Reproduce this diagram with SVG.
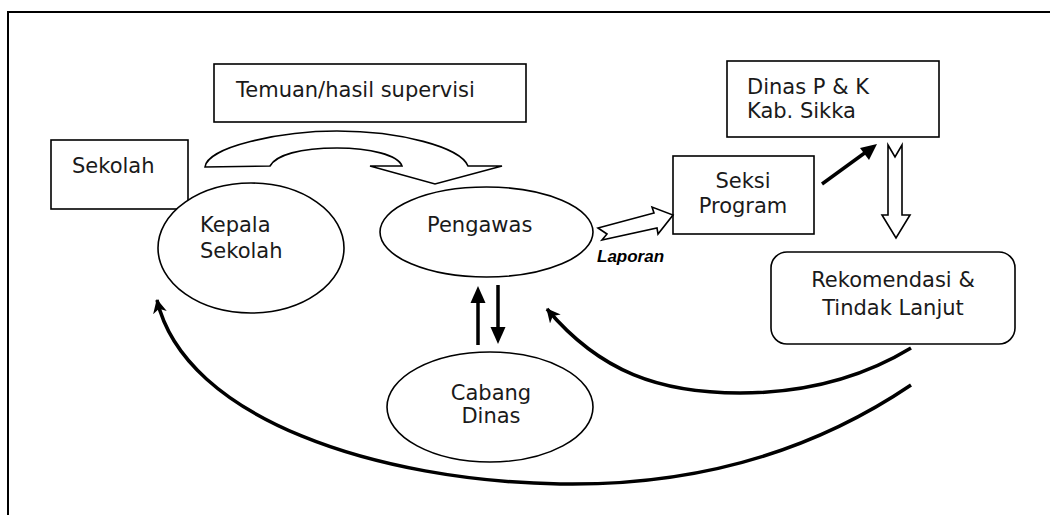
<svg xmlns="http://www.w3.org/2000/svg" width="1050" height="515" viewBox="0 0 1050 515">
<style>
.box{fill:#fff;stroke:#000;stroke-width:1.6}
.t{font-family:"DejaVu Sans",Verdana,sans-serif;font-size:21px;fill:#1a1a1a}
.c{text-anchor:middle}
.hollow{fill:#fff;stroke:#000;stroke-width:1.6;stroke-linejoin:miter}
.curve{fill:none;stroke:#000;stroke-width:3.5}
.thick{fill:none;stroke:#000;stroke-width:3.5}
</style>
<defs>
<marker id="stealth" markerWidth="16" markerHeight="14" refX="13" refY="7" orient="auto" markerUnits="userSpaceOnUse" viewBox="0 0 16 14">
<path d="M0,0 L14,7 L0,14 L4,7 Z" fill="#000"/>
</marker>
</defs>
<rect width="1050" height="515" fill="#fff"/>
<g id="frame">
<path d="M1050,12 L8,12 L8,515" fill="none" stroke="#000" stroke-width="2"/>
</g>
<g id="temuan">
<rect class="box" x="214" y="64" width="312" height="58"/>
<text class="t" x="236" y="97">Temuan/hasil supervisi</text>
</g>
<g id="sekolah">
<rect class="box" x="51" y="140" width="137" height="69"/>
<text class="t" x="72" y="173">Sekolah</text>
</g>
<g id="kepala-sekolah">
<ellipse class="box" cx="251" cy="248" rx="93" ry="65"/>
<text class="t" x="200" y="232">Kepala</text>
<text class="t" x="200" y="258">Sekolah</text>
</g>
<g id="pengawas">
<ellipse class="box" cx="486.5" cy="232" rx="106.5" ry="45"/>
<text class="t" x="427" y="232">Pengawas</text>
</g>
<g id="cabang-dinas">
<ellipse class="box" cx="490" cy="407" rx="103" ry="55"/>
<text class="t c" x="491" y="400">Cabang</text>
<text class="t c" x="491" y="423">Dinas</text>
</g>
<g id="seksi-program">
<rect class="box" x="673" y="156" width="141" height="78"/>
<text class="t c" x="743" y="188">Seksi</text>
<text class="t c" x="743" y="213">Program</text>
</g>
<g id="dinas-pk">
<rect class="box" x="727" y="61" width="212" height="76"/>
<text class="t" x="747" y="94">Dinas P &amp; K</text>
<text class="t" x="747" y="118">Kab. Sikka</text>
</g>
<g id="rekomendasi">
<rect class="box" x="771" y="252" width="244" height="92" rx="16" ry="16"/>
<text class="t c" x="893" y="287">Rekomendasi &amp;</text>
<text class="t c" x="893" y="315">Tindak Lanjut</text>
</g>
<g id="connectors">
<path class="hollow" d="M205,167 C207,147 280,131 337,131 C400,131 460,147 468,166 L502,166 L435,184 L370,166 L402,166 C398,155 370,148 337,148 C300,148 276,155 270,166 Z"/>
<path class="hollow" d="M598,228 L654,213 L652,207 L673,215 L658,234 L657,228 L602,240 L607,234 Z"/>
<text x="597" y="262" font-family="Liberation Sans Narrow,Liberation Sans,Arial,sans-serif" font-size="17" font-weight="bold" font-style="italic" fill="#000">Laporan</text>
<line class="thick" x1="822" y1="184" x2="866" y2="152" stroke-width="3.5"/>
<path d="M877,144 L860,148 L869,160 Z" fill="#000"/>
<path class="hollow" d="M888,145 L895,157 L902,145 L902,215 L910,215 L896,238 L882,215 L888,215 Z"/>
<line class="thick" x1="478" y1="345" x2="478" y2="300"/>
<path d="M478,286 L470.5,303 L485.5,303 Z" fill="#000"/>
<line class="thick" x1="498" y1="285" x2="498" y2="330"/>
<path d="M498,344 L490.5,327 L505.5,327 Z" fill="#000"/>
<path class="curve" d="M911,348 C850,385 790,393 740,393 C660,393 600,372 547,309" marker-end="url(#stealth)"/>
<path class="curve" d="M911,385 C800,460 680,486 560,484 C380,481 185,420 157,300" marker-end="url(#stealth)"/>
</g>
</svg>
